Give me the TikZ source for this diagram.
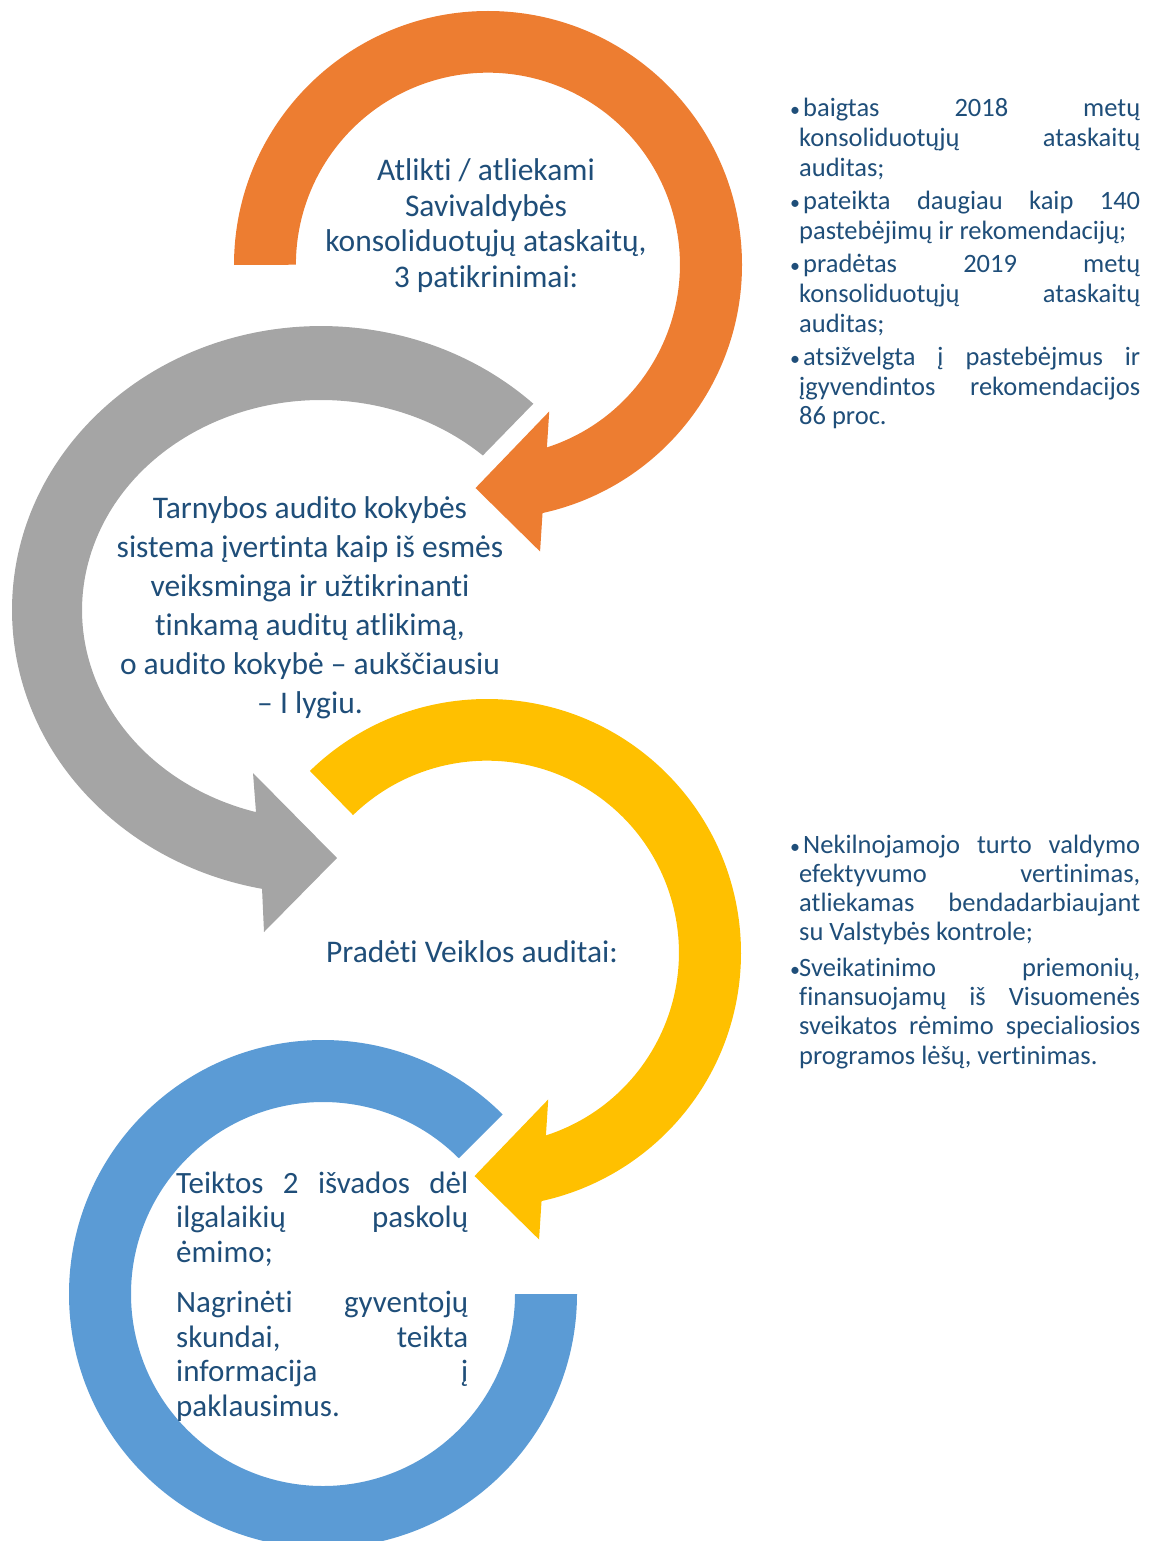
\documentclass[tikz,border=0pt]{standalone}
\usepackage{fontspec}
\setmainfont{Carlito}[Ligatures=NoCommon]
\definecolor{arcorange}{HTML}{ED7D31}
\definecolor{arcgray}{HTML}{A5A5A5}
\definecolor{arcyellow}{HTML}{FFC000}
\definecolor{arcblue}{HTML}{5B9BD5}
\definecolor{textblue}{HTML}{1F4E79}
\newcommand{\dotitem}[1][13pt]{\hangindent=9pt\hangafter=1\makebox[#1][l]{\fontsize{20}{20}\selectfont •}}
\begin{document}
\begin{tikzpicture}[x=1pt, y=-1pt,
    mainlabel/.style={text=textblue, align=center, inner sep=0pt, font=\fontsize{31.5}{35.7}\selectfont},
    blocklabel/.style={text=textblue, text width=292pt, align=justify, inner sep=0pt, anchor=base west,
      font={\fontsize{31}{34.7}\selectfont\tolerance=10000\hyphenpenalty=10000\parindent=0pt}},
    listlabel/.style={text=textblue, text width=350pt, align=justify, inner sep=0pt, anchor=base west,
      font={\fontsize{26.5}{29.3}\selectfont\tolerance=10000\hyphenpenalty=10000\parindent=0pt}}]
    \useasboundingbox (0,0) rectangle (1149,1541);
    \clip (0,0) rectangle (1149,1541);
    \fill[arcorange, shift={(488,265)}] (180:254) arc[start angle=180, end angle=437.6, radius=254]
      -- (439.7:291.2) -- (453.2:223.4) -- (427.3:158.7) -- (432.1:191.7)
      arc[start angle=432.1, end angle=180, radius=192] -- cycle;
    \fill[arcgray, shift={(321,610)}] (212.3,-206.3) arc[start angle=-46.6, end angle=-259, x radius=309, y radius=284]
      -- (-57,322) -- (16,248) -- (-68,163) -- (-65,202.1)
      arc[start angle=-254.2, end angle=-47.4, x radius=239, y radius=210] -- cycle;
    \fill[arcyellow, shift={(487,953)}] (225.8:254) arc[start angle=225.8, end angle=437.6, radius=254]
      -- (439.7:291.2) -- (453.2:223.4) -- (427.3:158.7) -- (432.1:191.7)
      arc[start angle=432.1, end angle=225.8, radius=192] -- cycle;
    \fill[arcblue, shift={(323,1294)}] (0:254) arc[start angle=0, end angle=315, radius=254]
      -- (315:192) arc[start angle=315, end angle=0, radius=192] -- cycle;

    \node[mainlabel] (reports) at (486,225.5) {Atlikti / atliekami\\Savivaldybės\\konsoliduotųjų ataskaitų,\\3 patikrinimai:};
    \node[mainlabel, font=\fontsize{31.5}{39}\selectfont] (quality) at (310,608) {Tarnybos audito kokybės\\sistema įvertinta kaip iš esmės\\veiksminga ir užtikrinanti\\tinkamą auditų atlikimą,\\o audito kokybė – aukščiausiu\\– I lygiu.};
    \node[mainlabel] (performance) at (472,952) {Pradėti Veiklos auditai:};
    \node[blocklabel] (conclusions) at (176,1193) {\setlength{\parskip}{15.3pt}Teiktos 2 išvados dėl\linebreak ilgalaikių paskolų\linebreak ėmimo;\par
      Nagrinėti gyventojų\linebreak skundai, teikta\linebreak informacija į\linebreak paklausimus.\par};
    \node[listlabel, font={\fontsize{26.5}{29.8}\selectfont\tolerance=10000\hyphenpenalty=10000\parindent=0pt}] (reportlist) at (790,117) {\setlength{\parskip}{3.3pt}\dotitem baigtas 2018 metų\linebreak konsoliduotųjų ataskaitų\linebreak auditas;\par
      \dotitem pateikta daugiau kaip 140\linebreak pastebėjimų ir rekomendacijų;\par
      \dotitem pradėtas 2019 metų\linebreak konsoliduotųjų ataskaitų\linebreak auditas;\par
      \dotitem atsižvelgta į pastebėjmus ir\linebreak įgyvendintos rekomendacijos\linebreak 86 proc.\par};
    \node[listlabel] (auditlist) at (790,853) {\setlength{\parskip}{6pt}\dotitem Nekilnojamojo turto valdymo\linebreak efektyvumo vertinimas,\linebreak atliekamas bendadarbiaujant\linebreak su Valstybės kontrole;\par
      \dotitem[9pt]Sveikatinimo priemonių,\linebreak finansuojamų iš Visuomenės\linebreak sveikatos rėmimo specialiosios\linebreak programos lėšų, vertinimas.\par};
\end{tikzpicture}
\end{document}
